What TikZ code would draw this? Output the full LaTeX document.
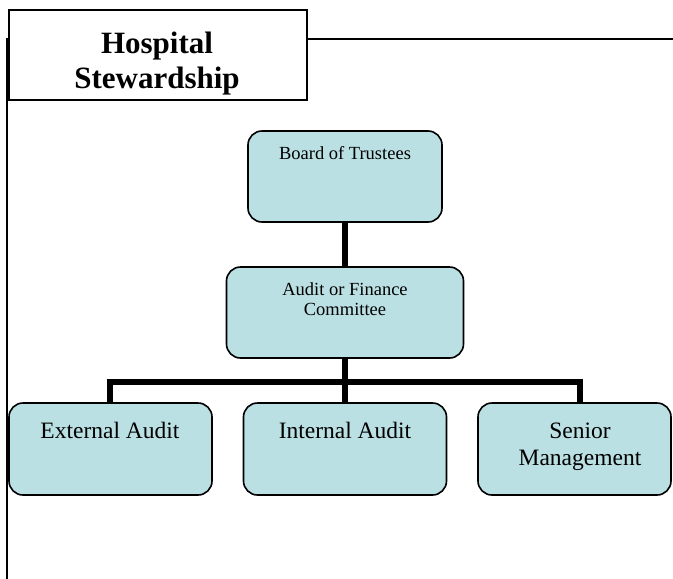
\documentclass[tikz,border=0pt]{standalone}
\usepackage{fontspec}
\setmainfont{Liberation Serif}
\definecolor{boxfill}{RGB}{186,224,227}
\begin{document}
\begin{tikzpicture}[x=1pt,y=-1pt,
  orgbox/.style={draw=black, line width=1.6pt, fill=boxfill, rounded corners=14pt, inner sep=0pt},
  conn/.style={line width=5.8pt, line join=miter},
  frameline/.style={line width=1.5pt},
  titletxt/.style={anchor=base, inner sep=0pt, font=\fontsize{31}{36}\selectfont\bfseries},
  toptxt/.style={anchor=base, inner sep=0pt, font=\fontsize{18.5}{21}\selectfont},
  lowtxt/.style={anchor=base, inner sep=0pt, font=\fontsize{23.5}{27}\selectfont}]
\useasboundingbox (0,0) rectangle (673,579);
% frame
\coordinate (vb) at (7,579);
\coordinate (vt) at (7,38);
\coordinate (hr) at (673,39);
\draw[frameline] (vt) -- (vb);
\node[draw, line width=2pt, fill=white, minimum width=298pt, minimum height=90pt, inner sep=0pt] (title) at (158,55) {};
\draw[frameline] (title.east |- hr) -- (hr);
\node[titletxt] (titleA) at (157,53) {Hospital};
\node[titletxt] (titleB) at (157,88) {Stewardship};
% boxes
\node[orgbox, minimum width=194pt, minimum height=91pt] (board) at (345,176.5) {};
\node[orgbox, minimum width=237pt, minimum height=91pt] (audit) at (345,312.5) {};
\node[orgbox, minimum width=203pt, minimum height=92pt] (ext) at (110.5,449) {};
\node[orgbox, minimum width=203pt, minimum height=92pt] (int) at (345,449) {};
\node[orgbox, minimum width=193pt, minimum height=92pt] (sen) at (574.5,449) {};
% texts
\node[toptxt] (boardA) at (345,159) {Board of Trustees};
\node[toptxt] (auditA) at (345,295) {Audit or Finance};
\node[toptxt] (auditB) at (345,315.5) {Committee};
\node[lowtxt] (extA) at (110,438) {External Audit};
\node[lowtxt] (intA) at (345,438) {Internal Audit};
\node[lowtxt] (senA) at (580,438) {Senior};
\node[lowtxt] (senB) at (580,465) {Management};
% connectors
\coordinate (bus) at (345,382);
\draw[conn] (board.south) -- (audit.north);
\draw[conn] (audit.south) -- (bus);
\draw[conn] (extA |- ext.north) |- (bus) -| (senA |- sen.north);
\draw[conn] (bus) -- (int.north);
\end{tikzpicture}
\end{document}
